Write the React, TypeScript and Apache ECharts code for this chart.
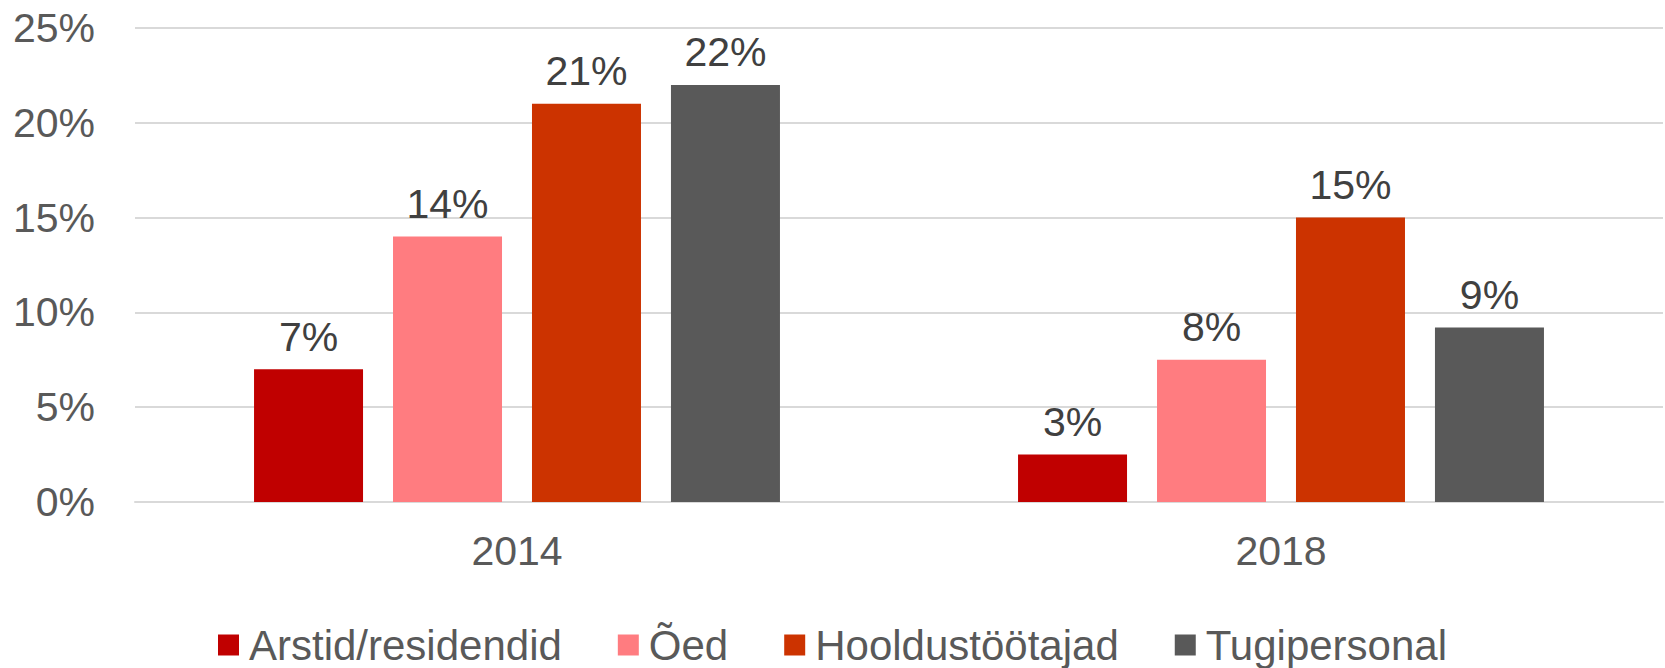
import React, { useEffect, useRef } from "react";
import * as echarts from "echarts";

const categories = ["2014", "2018"];
const seriesNames = ["Arstid/residendid", "Õed", "Hooldustöötajad", "Tugipersonal"];
const arstid = [7, 2.5];
const oed = [14, 7.5];
const hooldus = [21, 15];
const tugi = [22, 9.2];
const colors = ["#C00000", "#FF7C80", "#CC3300", "#595959"];
const yTicks = { min: 0, max: 25, interval: 5 };

const FONT = "'Liberation Sans', Arial, sans-serif";

export default function App() {
  const ref = useRef<HTMLDivElement>(null);
  useEffect(() => {
    if (!ref.current) return;
    const chart = echarts.init(ref.current, null, { renderer: "svg" });
    const values = [arstid, oed, hooldus, tugi];
    chart.setOption({
      animation: false,
      textStyle: { fontFamily: FONT },
      grid: { left: 135, right: 2, top: 28, bottom: 166, containLabel: false },
      legend: {
        data: seriesNames,
        top: 619,
        left: "center",
        icon: "rect",
        itemWidth: 21,
        itemHeight: 21,
        itemGap: 56,
        textStyle: { fontFamily: FONT, fontSize: 42, lineHeight: 42, color: "#595959", padding: [0, 0, 0, 5] },
      },
      xAxis: {
        type: "category",
        data: categories,
        axisTick: { show: false },
        axisLine: { lineStyle: { color: "#d9d9d9", width: 2 } },
        axisLabel: { fontFamily: FONT, fontSize: 41, color: "#595959", margin: 28 },
      },
      yAxis: {
        type: "value",
        min: yTicks.min,
        max: yTicks.max,
        interval: yTicks.interval,
        axisLine: { show: false },
        axisTick: { show: false },
        splitLine: { lineStyle: { color: "#d9d9d9", width: 2 } },
        axisLabel: { fontFamily: FONT, fontSize: 41, color: "#595959", margin: 40, formatter: "{value}%" },
      },
      series: seriesNames.map((name, i) => ({
        name,
        type: "bar",
        data: values[i],
        barWidth: 109,
        barGap: "27.5%",
        itemStyle: { color: colors[i] },
        label: {
          show: true,
          position: "top",
          distance: 12,
          fontFamily: FONT,
          fontSize: 41,
          color: "#404040",
          formatter: (p: any) => Math.round(p.value) + "%",
        },
      })),
    });
    return () => chart.dispose();
  }, []);
  return <div ref={ref} style={{ position: "absolute", left: 0, top: 0, width: 1665, height: 668 }} />;
}
